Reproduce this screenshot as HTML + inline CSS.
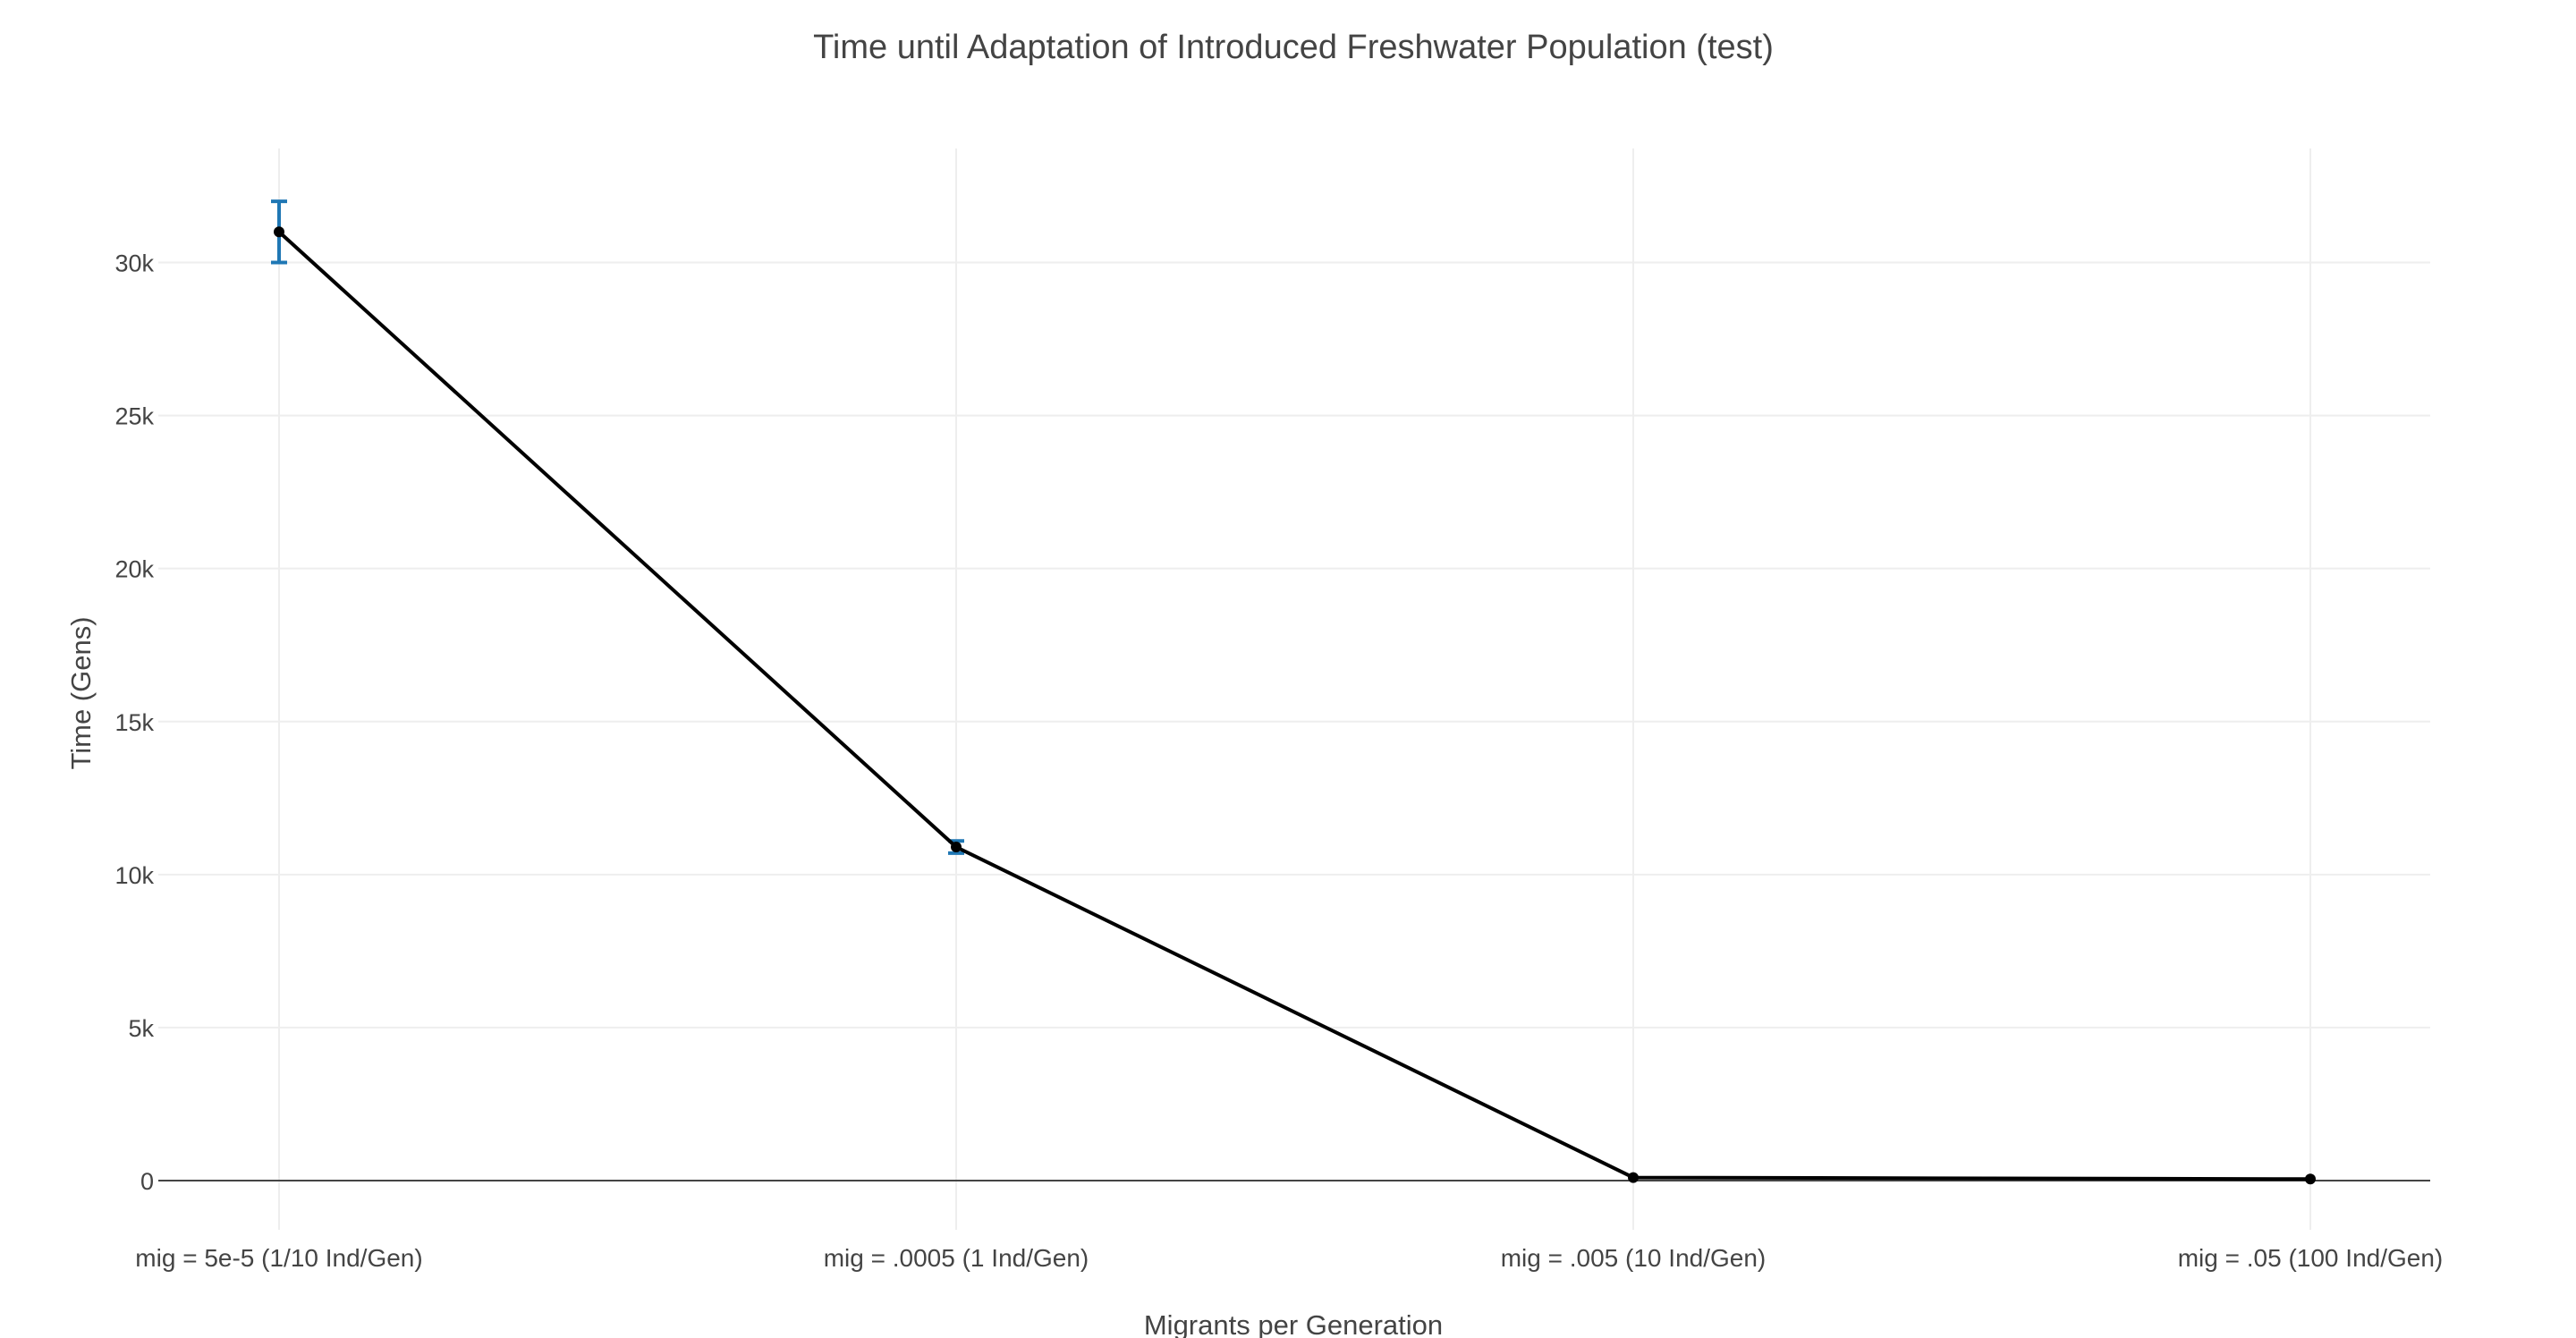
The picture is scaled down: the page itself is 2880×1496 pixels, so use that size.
<!DOCTYPE html>
<html><head><meta charset="utf-8"><style>
body{margin:0;background:#fff;}
svg{display:block;font-family:"Liberation Sans",sans-serif;}
</style></head><body>
<svg id="chart" width="2880" height="1496" viewBox="0 0 2880 1496">
<text x="1446" y="65" text-anchor="middle" font-size="38" fill="#444">Time until Adaptation of Introduced Freshwater Population (test)</text>
<g id="grid"></g><g id="axes"></g><g id="series"></g>
<text x="1446" y="1492" text-anchor="middle" font-size="31" fill="#444">Migrants per Generation</text>
<text x="0" y="0" transform="translate(101,775) rotate(-90)" text-anchor="middle" font-size="31" fill="#444">Time (Gens)</text>
</svg>
<script>
const categories=["mig = 5e-5 (1/10 Ind/Gen)","mig = .0005 (1 Ind/Gen)","mig = .005 (10 Ind/Gen)","mig = .05 (100 Ind/Gen)"];
const values=[31000,10900,100,50];
const errors=[1000,200,0,0];
const yTicks=[0,5000,10000,15000,20000,25000,30000];
const yTickLabels=["0","5k","10k","15k","20k","25k","30k"];
const NS="http://www.w3.org/2000/svg";
const x0=312,dx=757,y0=1320,yScale=1026.5/30000;
function xs(i){return x0+i*dx;}
function ys(v){return y0-v*yScale;}
function mk(t,a,p){const e=document.createElementNS(NS,t);for(const k in a)e.setAttribute(k,a[k]);p.appendChild(e);return e;}
const grid=document.getElementById('grid'),axes=document.getElementById('axes'),series=document.getElementById('series');
categories.forEach((c,i)=>{
 const g=mk('line',{x1:xs(i),x2:xs(i),y1:166,y2:1375,stroke:'#eee','stroke-width':2},grid);
 
 
 const t=mk('text',{x:xs(i),y:1416,'text-anchor':'middle','font-size':28,fill:'#444'},axes);
 t.textContent=c;
 
 
});
yTicks.forEach((v,i)=>{
 if(v!==0){const g=mk('line',{x1:177,x2:2717,y1:ys(v),y2:ys(v),stroke:'#eee','stroke-width':2},grid);
 
 }
 const t=mk('text',{x:172,y:ys(v)+10,'text-anchor':'end','font-size':27,fill:'#444'},axes);
 t.textContent=yTickLabels[i];
 
 
});
const zl=mk('line',{x1:177,x2:2717,y1:ys(0),y2:ys(0),stroke:'#444','stroke-width':2},axes);


errors.forEach((e,i)=>{
 if(!e)return;
 const g=mk('g',{stroke:'#1f77b4','stroke-width':4},series);
 
 
 const t=ys(values[i]+e),b=ys(values[i]-e),x=xs(i);
 mk('line',{x1:x,x2:x,y1:t,y2:b},g);
 mk('line',{x1:x-9,x2:x+9,y1:t,y2:t},g);
 mk('line',{x1:x-9,x2:x+9,y1:b,y2:b},g);
});
const pl=mk('polyline',{points:values.map((v,i)=>xs(i)+','+ys(v)).join(' '),fill:'none',stroke:'#000','stroke-width':4},series);


values.forEach((v,i)=>{
 const c=mk('circle',{cx:xs(i),cy:ys(v),r:6,fill:'#000'},series);
 
 
});
</script>
</body></html>
